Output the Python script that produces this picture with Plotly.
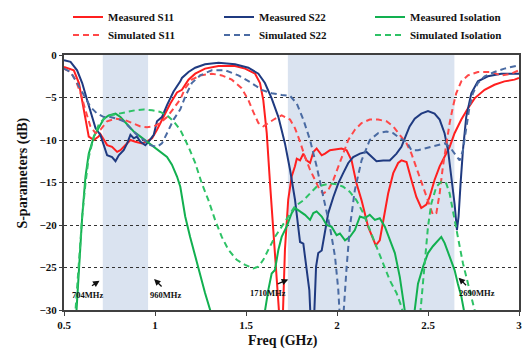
import plotly.graph_objects as go

# ---------------- data ----------------
MS11_F = [0.50, 0.554, 0.582, 0.600, 0.618, 0.636, 0.664, 0.690, 0.700, 0.715, 0.737, 0.764, 0.792, 0.810,
          0.837, 0.865, 0.892, 0.929, 0.960, 0.984, 1.011, 1.048, 1.084, 1.121, 1.148, 1.184, 1.221, 1.275,
          1.349, 1.440, 1.495, 1.550, 1.577, 1.595, 1.614, 1.632, 1.650, 1.668, 1.684, 1.702, 1.714, 1.732,
          1.751, 1.769, 1.779, 1.797, 1.815, 1.833, 1.852, 1.870, 1.888, 1.916, 1.934, 1.961, 1.998, 2.025,
          2.053, 2.080, 2.107, 2.135, 2.171, 2.199, 2.213, 2.235, 2.254, 2.281, 2.309, 2.336, 2.354, 2.382,
          2.409, 2.436, 2.463, 2.491, 2.509, 2.536, 2.564, 2.591, 2.619, 2.646, 2.683, 2.719, 2.756, 2.811,
          2.865, 2.920, 2.975, 3.0]
MS11_DB = [-1.4, -1.8, -3.3, -5.3, -7.6, -9.6, -10.0, -9.6, -9.3, -9.8, -10.6, -10.8, -11.4, -11.2,
           -10.6, -10.0, -10.2, -10.4, -10.1, -9.8, -8.8, -7.3, -5.7, -4.4, -4.1, -2.9, -2.2, -1.6,
           -1.3, -1.3, -1.6, -2.2, -3.3, -5.3, -9.2, -15.1, -21.0, -26.0, -31.0, -31.0, -22.9, -17.0,
           -14.3, -13.1, -12.2, -12.4, -11.6, -12.4, -12.7, -11.4, -11.0, -11.8, -11.6, -11.2, -11.1, -11.0,
           -11.2, -12.4, -15.1, -17.1, -20.2, -21.8, -22.4, -21.8, -19.4, -16.3, -13.9, -12.7, -12.4, -12.6,
           -14.7, -16.7, -18.0, -17.6, -16.7, -14.7, -13.1, -12.0, -10.8, -9.2, -7.6, -6.3, -5.1, -4.1,
           -3.5, -3.1, -2.9, -2.7]

MS22_F = [0.50, 0.536, 0.572, 0.600, 0.627, 0.655, 0.673, 0.700, 0.719, 0.737, 0.764, 0.783, 0.801, 0.828,
          0.847, 0.865, 0.883, 0.901, 0.920, 0.947, 0.965, 0.993, 1.011, 1.038, 1.066, 1.102, 1.139, 1.148,
          1.184, 1.221, 1.275, 1.349, 1.440, 1.513, 1.568, 1.604, 1.641, 1.678, 1.714, 1.742, 1.769, 1.788,
          1.797, 1.815, 1.833, 1.848, 1.855, 1.874, 1.885, 1.897, 1.916, 1.934, 1.952, 1.980, 2.007, 2.034,
          2.062, 2.089, 2.126, 2.162, 2.190, 2.217, 2.254, 2.290, 2.327, 2.354, 2.380, 2.399, 2.427, 2.463,
          2.500, 2.536, 2.564, 2.591, 2.610, 2.628, 2.646, 2.659, 2.668, 2.679, 2.692, 2.710, 2.738, 2.774,
          2.829, 2.902, 3.0]
MS22_DB = [-0.6, -0.8, -1.8, -3.3, -5.3, -7.3, -8.6, -9.4, -10.6, -11.8, -12.0, -12.5, -11.8, -11.2,
           -10.4, -9.4, -9.8, -9.6, -10.2, -10.6, -10.2, -9.4, -7.8, -7.3, -5.9, -4.3, -3.1, -2.7,
           -2.0, -1.5, -1.1, -0.9, -1.1, -1.5, -2.2, -3.3, -5.1, -7.3, -10.4, -13.5, -17.0, -20.2,
           -22.0, -22.2, -24.9, -27.7, -31.0, -31.0, -24.9, -23.3, -23.0, -20.6, -18.6, -16.7, -15.1, -13.9,
           -12.7, -12.0, -11.6, -11.4, -12.0, -12.5, -12.4, -12.4, -11.6, -10.8, -9.4, -8.4, -7.5, -6.9,
           -6.6, -6.9, -7.6, -9.2, -11.2, -14.3, -17.5, -20.6, -19.0, -15.1, -11.2, -7.3, -4.5, -3.1,
           -2.5, -2.2, -2.2]

MISO_F = [0.566, 0.582, 0.600, 0.618, 0.636, 0.664, 0.691, 0.719, 0.746, 0.783, 0.810, 0.847, 0.883, 0.920,
          0.956, 0.993, 1.029, 1.066, 1.093, 1.121, 1.139, 1.166, 1.193, 1.221, 1.248, 1.275, 1.303, 1.320,
          1.590, 1.604, 1.623, 1.641, 1.659, 1.678, 1.696, 1.723, 1.751, 1.769, 1.797, 1.824, 1.852, 1.870,
          1.888, 1.916, 1.943, 1.970, 1.998, 2.016, 2.044, 2.071, 2.098, 2.126, 2.153, 2.180, 2.208, 2.235,
          2.263, 2.290, 2.318, 2.345, 2.363, 2.372, 2.380, 2.420, 2.427, 2.445, 2.473, 2.500, 2.527, 2.555,
          2.573, 2.591, 2.619, 2.646, 2.664, 2.683, 2.697, 2.710]
MISO_DB = [-31.0, -24.9, -19.0, -14.3, -11.6, -9.6, -8.6, -7.5, -7.1, -6.9, -7.3, -8.2, -9.0, -9.6,
           -10.2, -10.8, -11.4, -12.0, -12.9, -14.3, -15.5, -19.0, -21.4, -23.7, -26.1, -28.0, -30.0, -32.0,
           -32.0, -30.0, -27.6, -25.7, -25.3, -22.9, -21.4, -20.2, -18.6, -18.0, -18.4, -18.8, -19.4, -18.6,
           -18.4, -19.0, -20.0, -20.2, -21.2, -21.0, -21.8, -21.4, -20.6, -19.0, -19.2, -18.8, -19.4, -19.2,
           -20.2, -21.8, -23.3, -26.1, -28.4, -30.0, -32.0, -32.0, -30.0, -26.9, -24.9, -23.3, -22.5, -21.8,
           -21.4, -22.1, -23.7, -25.3, -26.9, -28.4, -30.0, -32.0]

SS11_F = [0.50, 0.536, 0.563, 0.591, 0.618, 0.645, 0.673, 0.700, 0.737, 0.783, 0.828, 0.874, 0.920, 0.956,
          0.993, 1.029, 1.066, 1.102, 1.139, 1.166, 1.202, 1.248, 1.312, 1.367, 1.422, 1.476, 1.513, 1.540,
          1.568, 1.595, 1.623, 1.659, 1.696, 1.742, 1.769, 1.797, 1.824, 1.852, 1.879, 1.906, 1.925, 1.952,
          1.980, 2.007, 2.034, 2.062, 2.098, 2.135, 2.180, 2.226, 2.272, 2.309, 2.345, 2.382, 2.409, 2.427,
          2.454, 2.482, 2.509, 2.527, 2.546, 2.564, 2.582, 2.600, 2.619, 2.637, 2.655, 2.683, 2.719, 2.774,
          2.847, 2.902, 2.957, 3.0]
SS11_DB = [-1.6, -2.0, -2.9, -4.5, -6.5, -8.4, -9.2, -8.8, -7.8, -7.5, -7.6, -8.0, -8.4, -8.5,
           -8.4, -8.0, -7.3, -6.3, -5.2, -3.9, -2.9, -2.4, -2.2, -2.4, -2.9, -3.9, -5.3, -6.7,
           -8.0, -8.4, -8.0, -7.5, -7.1, -7.6, -8.6, -10.2, -12.0, -13.5, -14.7, -15.9, -16.3, -15.9,
           -14.7, -13.1, -11.6, -10.0, -8.8, -8.0, -7.6, -7.6, -7.8, -8.4, -9.4, -10.4, -11.6, -12.7,
           -14.3, -15.9, -17.8, -18.8, -18.6, -16.3, -13.1, -10.4, -8.0, -6.1, -4.5, -3.1, -2.4, -2.0,
           -2.0, -2.4, -2.2, -1.8]

SS22_F = [0.50, 0.536, 0.572, 0.609, 0.645, 0.682, 0.719, 0.755, 0.792, 0.828, 0.865, 0.901, 0.938, 0.974,
          1.011, 1.038, 1.066, 1.102, 1.139, 1.166, 1.202, 1.248, 1.312, 1.385, 1.458, 1.531, 1.586, 1.641,
          1.696, 1.742, 1.779, 1.815, 1.852, 1.888, 1.925, 1.961, 1.989, 2.007, 2.016, 2.034, 2.053, 2.071,
          2.098, 2.135, 2.180, 2.226, 2.272, 2.309, 2.345, 2.382, 2.409, 2.445, 2.482, 2.518, 2.555, 2.591,
          2.619, 2.646, 2.674, 2.692, 2.710, 2.728, 2.747, 2.774, 2.811, 2.865, 2.920, 3.0]
SS22_DB = [-1.6, -2.0, -3.3, -4.7, -6.1, -6.9, -7.3, -7.3, -7.5, -7.8, -8.6, -9.4, -10.0, -10.6,
           -10.8, -10.4, -9.2, -7.6, -6.4, -4.9, -3.3, -2.4, -1.8, -1.8, -2.4, -3.3, -4.1, -4.5,
           -4.7, -4.8, -5.7, -7.6, -10.0, -13.1, -16.7, -20.2, -23.7, -27.6, -31.0, -31.0, -24.9, -20.2,
           -15.9, -12.4, -10.0, -9.2, -9.0, -9.2, -9.8, -10.2, -11.2, -11.2, -11.0, -10.8, -10.6, -10.4,
           -10.8, -11.6, -12.4, -11.2, -8.4, -6.1, -4.5, -3.3, -2.5, -2.0, -1.6, -1.2]

SISO_F = [0.560, 0.573, 0.587, 0.600, 0.618, 0.636, 0.664, 0.691, 0.719, 0.755, 0.801, 0.847, 0.892, 0.938,
          0.984, 1.029, 1.066, 1.102, 1.139, 1.184, 1.221, 1.257, 1.294, 1.330, 1.367, 1.403, 1.449, 1.495,
          1.540, 1.568, 1.595, 1.623, 1.659, 1.696, 1.732, 1.769, 1.815, 1.852, 1.888, 1.925, 1.961, 1.998,
          2.034, 2.071, 2.107, 2.144, 2.180, 2.217, 2.254, 2.290, 2.327, 2.354, 2.370, 2.455, 2.482, 2.500,
          2.518, 2.546, 2.574, 2.600, 2.619, 2.637, 2.664, 2.692, 2.719, 2.747, 2.756, 2.770]
SISO_DB = [-31.0, -26.9, -23.0, -19.0, -15.1, -12.0, -9.6, -8.2, -7.5, -7.1, -6.9, -6.7, -6.5, -6.4,
           -6.5, -6.7, -7.1, -7.8, -8.8, -10.8, -12.7, -15.1, -17.1, -19.4, -21.4, -22.9, -24.1, -24.7,
           -25.1, -24.9, -24.1, -22.9, -21.4, -20.2, -19.0, -17.8, -17.1, -16.3, -15.5, -15.3, -15.1, -15.2,
           -15.5, -16.1, -17.1, -18.6, -20.6, -22.5, -24.5, -26.5, -28.0, -29.6, -31.0, -31.0, -24.5, -20.2,
           -17.5, -15.5, -14.9, -15.1, -16.3, -18.2, -21.4, -24.5, -26.9, -29.3, -30.0, -32.0]

BANDS = [(0.713, 0.962), (1.730, 2.645)]

# annotations: (label, text_x, text_y, arrow_tip_x, arrow_tip_y, tail_dx_px, tail_dy_px)
MARKS = [("704MHz", 0.627, -28.2, 0.695, -26.55, -9, 6),
         ("960MHz", 1.060, -28.2, 0.995, -26.35, 9, 9),
         ("1710MHz", 1.623, -28.0, 1.732, -26.4, -12, 5),
         ("2690MHz", 2.771, -28.0, 2.668, -26.2, 9, 9)]

X_TITLE = "Freq (GHz)"
Y_TITLE = "S-parameters (dB)"

# ---------------- figure ----------------
SERIF = "Liberation Serif"
W, H = 523.0, 349.0
ML, MR, MT, MB = 63.5, 3.5, 55, 39
PW, PH = W - ML - MR, H - MT - MB

fig = go.Figure()

series = [
    ("Measured S11", MS11_F, MS11_DB, "#FF1F1F", "solid", "legend"),
    ("Measured S22", MS22_F, MS22_DB, "#1F3A80", "solid", "legend"),
    ("Measured Isolation", MISO_F, MISO_DB, "#12B050", "solid", "legend"),
    ("Simulated S11", SS11_F, SS11_DB, "#FF4848", "6px,4px", "legend2"),
    ("Simulated S22", SS22_F, SS22_DB, "#4A6BA3", "6px,4px", "legend2"),
    ("Simulated Isolation", SISO_F, SISO_DB, "#2EC266", "6px,4px", "legend2"),
]
for name, xs, ys, col, dash, lg in series:
    fig.add_trace(go.Scatter(x=xs, y=ys, name=name, mode="lines", legend=lg,
                             line=dict(color=col, width=2, dash=dash)))

for x0, x1 in BANDS:
    fig.add_shape(type="rect", xref="x", yref="paper", x0=x0, x1=x1, y0=0, y1=1,
                  fillcolor="#DAE3F0", line=dict(width=0), layer="below")

for label, tx, ty, hx, hy, dx, dy in MARKS:
    fig.add_annotation(x=tx, y=ty, text=label, showarrow=False,
                       font=dict(family=SERIF, size=8.5, color="#111", weight=700))
    fig.add_annotation(x=hx, y=hy, ax=dx, ay=dy, text="", showarrow=True,
                       arrowhead=2, arrowsize=1, arrowwidth=1.3, arrowcolor="#111")

title_font = dict(family=SERIF, size=14, color="#111", weight=700)
fig.add_annotation(xref="paper", yref="paper", x=(283 - ML) / PW, y=(H - MB - 341) / PH,
                   text=X_TITLE, showarrow=False, xanchor="center", yanchor="middle",
                   font=title_font)
fig.add_annotation(xref="paper", yref="paper", x=(22 - ML) / PW, y=(H - MB - 173) / PH,
                   text=Y_TITLE, showarrow=False, textangle=-90,
                   xanchor="center", yanchor="middle", font=title_font)

axis_font = dict(family=SERIF, size=11, color="#111", weight=700)
leg_font = dict(family=SERIF, size=11, color="#111", weight=700)


def legend_cfg(ycenter):
    return dict(orientation="h", xref="container", yref="container",
                x=68 / W, y=1 - ycenter / H, xanchor="left", yanchor="middle",
                entrywidth=106, entrywidthmode="pixels", font=leg_font,
                bgcolor="rgba(0,0,0,0)", itemwidth=30)


fig.update_layout(
    width=W, height=H,
    margin=dict(l=ML, r=MR, t=MT, b=MB, autoexpand=False),
    paper_bgcolor="white", plot_bgcolor="white",
    showlegend=True,
    legend=legend_cfg(17),
    legend2=legend_cfg(35),
    xaxis=dict(range=[0.5, 3], dtick=0.5, tick0=0.5, showgrid=False, zeroline=False,
               showline=True, mirror=True, linecolor="#404040", linewidth=2,
               ticks="outside", ticklen=4, tickcolor="#404040",
               tickfont=axis_font),
    yaxis=dict(range=[-30, 0], dtick=5, showgrid=True, gridcolor="#333", griddash="dot",
               gridwidth=1, zeroline=False,
               showline=True, mirror=True, linecolor="#404040", linewidth=2,
               ticks="outside", ticklen=3, tickcolor="#404040",
               tickfont=axis_font),
)

fig.write_html("out.html", config={"displayModeBar": False},
               post_script="document.body.style.margin='0px';")
